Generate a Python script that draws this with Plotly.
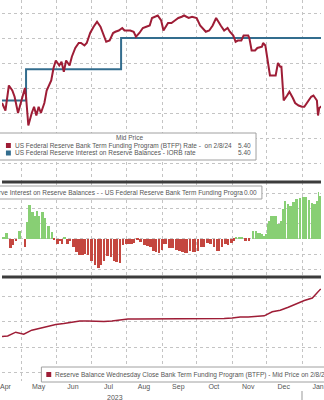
import plotly.graph_objects as go
from datetime import datetime

# ---------------- data ----------------
btfp_dates = [
    "2023-04-14", "2023-04-17", "2023-04-20", "2023-04-23", "2023-04-25", "2023-04-28",
    "2023-05-01", "2023-05-04", "2023-05-05", "2023-05-07", "2023-05-10", "2023-05-12",
    "2023-05-14", "2023-05-16", "2023-05-18", "2023-05-21", "2023-05-23", "2023-05-27",
    "2023-05-29", "2023-05-31", "2023-06-03", "2023-06-05", "2023-06-07", "2023-06-09",
    "2023-06-12", "2023-06-14", "2023-06-17", "2023-06-20", "2023-06-22", "2023-06-25",
    "2023-06-27", "2023-06-30", "2023-07-03", "2023-07-06", "2023-07-09", "2023-07-11",
    "2023-07-14", "2023-07-17", "2023-07-20", "2023-07-22", "2023-07-25", "2023-07-28",
    "2023-07-30", "2023-08-02", "2023-08-04", "2023-08-07", "2023-08-09", "2023-08-12",
    "2023-08-15", "2023-08-18", "2023-08-21", "2023-08-23", "2023-08-26", "2023-08-28",
    "2023-08-31", "2023-09-02", "2023-09-06", "2023-09-09", "2023-09-12", "2023-09-15",
    "2023-09-18", "2023-09-20", "2023-09-24", "2023-09-27", "2023-10-01", "2023-10-04",
    "2023-10-09", "2023-10-12", "2023-10-15", "2023-10-18", "2023-10-22", "2023-10-25",
    "2023-10-28", "2023-10-30", "2023-11-02", "2023-11-04", "2023-11-06", "2023-11-09",
    "2023-11-11", "2023-11-15", "2023-11-16", "2023-11-18", "2023-11-21", "2023-11-23",
    "2023-11-27", "2023-11-28", "2023-11-30", "2023-12-02", "2023-12-03", "2023-12-04",
    "2023-12-07", "2023-12-09", "2023-12-11", "2023-12-13", "2023-12-14", "2023-12-15",
    "2023-12-16", "2023-12-19", "2023-12-21", "2023-12-24", "2023-12-26", "2023-12-29",
    "2024-01-01", "2024-01-03", "2024-01-06", "2024-01-09", "2024-01-11", "2024-01-14",
    "2024-01-15", "2024-01-16", "2024-01-19", "2024-01-24", "2024-02-08",
]
btfp_rate = [
    4.88, 4.82, 5.02, 4.98, 4.93, 4.80,
    4.90, 5.00, 4.93, 4.70, 4.80, 4.85,
    4.78, 4.85, 4.80, 4.88, 4.98, 5.06,
    5.16, 5.22, 5.18, 5.21, 5.13, 5.22,
    5.18, 5.25, 5.32, 5.36, 5.36, 5.34,
    5.36, 5.44, 5.49, 5.53, 5.49, 5.44,
    5.37, 5.38, 5.44, 5.45, 5.46, 5.48,
    5.46, 5.46, 5.46, 5.45, 5.41, 5.44,
    5.48, 5.49, 5.50, 5.56, 5.57, 5.58,
    5.54, 5.46, 5.52, 5.52, 5.54, 5.56,
    5.57, 5.58, 5.56, 5.57, 5.56, 5.50,
    5.45, 5.46, 5.50, 5.56, 5.50, 5.46,
    5.48, 5.45, 5.42, 5.37, 5.38, 5.38,
    5.42, 5.42, 5.40, 5.30, 5.30, 5.32,
    5.33, 5.36, 5.34, 5.20, 5.17, 5.10,
    5.10, 5.10, 5.20, 5.17, 5.17, 5.01,
    4.90, 4.94, 4.97, 4.92, 4.88, 4.86,
    4.85, 4.85, 4.89, 4.93, 4.94, 4.90,
    4.78, 4.84, 4.86, 5.40, 5.40,
]

iorb_dates = ["2023-03-23", "2023-05-05", "2023-07-27", "2024-02-08"]
iorb_rate = [4.90, 5.15, 5.40, 5.40]

reserve_dates = [
    "2023-04-12", "2023-04-19", "2023-04-26", "2023-05-03", "2023-05-10", "2023-05-17",
    "2023-05-24", "2023-05-31", "2023-06-07", "2023-06-14", "2023-06-21", "2023-06-28",
    "2023-07-05", "2023-07-12", "2023-07-19", "2023-07-26", "2023-08-02", "2023-08-09",
    "2023-08-16", "2023-08-23", "2023-08-30", "2023-09-06", "2023-09-13", "2023-09-20",
    "2023-09-27", "2023-10-04", "2023-10-11", "2023-10-18", "2023-10-25", "2023-11-01",
    "2023-11-08", "2023-11-15", "2023-11-22", "2023-11-29", "2023-12-06", "2023-12-13",
    "2023-12-20", "2023-12-27", "2024-01-03", "2024-01-10", "2024-01-17", "2024-01-24",
    "2024-01-31", "2024-02-07",
]
reserve_bn = [
    71.0, 72.5, 80.0, 76.0, 84.0, 88.0,
    91.0, 95.0, 97.0, 100.0, 102.0, 102.0,
    101.0, 101.0, 102.0, 104.0, 106.0, 106.0,
    106.0, 106.0, 106.0, 106.0, 106.0, 106.0,
    106.0, 106.0, 106.0, 107.0, 107.0, 108.0,
    110.0, 110.0, 111.0, 112.0, 120.0, 123.0,
    129.0, 136.0, 142.0, 147.0, 164.0, 168.0,
    168.0, 168.0,
]

# month tick labels (centred mid-month)
month_tick_dates = ["2023-04-17", "2023-05-16", "2023-06-15", "2023-07-16", "2023-08-16", "2023-09-15",
                    "2023-10-16", "2023-11-15", "2023-12-16", "2024-01-15"]
month_tick_labels = ["Apr", "May", "Jun", "Jul", "Aug", "Sep", "Oct", "Nov", "Dec", "Jan"]

# ---------------- derived: spread IORB - BTFP ----------------
def to_dt(s):
    return datetime.strptime(s, "%Y-%m-%d")

iorb_dt = [to_dt(d) for d in iorb_dates]
btfp_dt = [to_dt(d) for d in btfp_dates]

def iorb_at(d):
    v = iorb_rate[0]
    for dd, rr in zip(iorb_dt, iorb_rate):
        if dd <= d:
            v = rr
    return v

spread = [round(iorb_at(d) - r, 3) for d, r in zip(btfp_dt, btfp_rate)]
bar_colors = ["#88cf74" if s >= 0 else "#c4463f" for s in spread]
bar_width = []
for i, d in enumerate(btfp_dt):
    if i + 1 < len(btfp_dt):
        gap = btfp_dt[i + 1] - d
    else:
        gap = d - btfp_dt[i - 1]
    bar_width.append(gap.total_seconds() * 1000 * 0.78)

# ---------------- layout helpers ----------------
W, H = 324, 400
B = 19
PH = H - B

def py(y):
    return (PH - y) / PH

def px(x):
    return x / W

top_dom = [py(182), 1.0]
mid_dom = [py(277), py(182)]
bot_dom = [0.0, py(277)]

RED = "#9e1d36"
BLUE = "#336d8e"
GRID = "#c4c4c4"
TXT = "#555555"
FONT = "Liberation Sans"

fig = go.Figure()
fig.add_trace(go.Scatter(x=iorb_dates, y=iorb_rate, mode="lines", line=dict(color=BLUE, width=2, shape="hv"),
                         xaxis="x3", yaxis="y"))
fig.add_trace(go.Scatter(x=btfp_dates, y=btfp_rate, mode="lines", line=dict(color=RED, width=2),
                         xaxis="x3", yaxis="y"))
fig.add_trace(go.Bar(x=btfp_dates, y=spread, marker=dict(color=bar_colors, line=dict(width=0)),
                     width=bar_width, offset=0, xaxis="x2", yaxis="y2"))
fig.add_trace(go.Scatter(x=reserve_dates, y=reserve_bn, mode="lines", line=dict(color=RED, width=1.5),
                         xaxis="x", yaxis="y3"))

xrange = ["2023-04-14", "2024-01-17 14:00"]
xcommon = dict(type="date", range=xrange, showgrid=False, ticks="", showline=False, zeroline=False,
               tickmode="array", tickvals=month_tick_dates, ticktext=month_tick_labels,
               minor=dict(dtick="M1", tick0="2023-01-01", showgrid=True, gridcolor=GRID, griddash="dot",
                          gridwidth=1, ticks=""))
ycommon = dict(showgrid=True, gridcolor=GRID, griddash="dot", gridwidth=1, showticklabels=False,
               ticks="", zeroline=False, showline=False, fixedrange=True)

fig.update_layout(
    width=W, height=H,
    margin=dict(l=0, r=0, t=0, b=B, pad=0),
    paper_bgcolor="white", plot_bgcolor="white",
    showlegend=False, bargap=0,
    font=dict(family=FONT, size=7, color=TXT),
    xaxis=dict(**xcommon, domain=[0, 1], anchor="y3", showticklabels=True, ticklabeloverflow="allow",
               tickfont=dict(size=7, color=TXT, family=FONT)),
    xaxis2=dict(**xcommon, domain=[0, 1], anchor="y2", matches="x", showticklabels=False),
    xaxis3=dict(**xcommon, domain=[0, 1], anchor="y", matches="x", showticklabels=False),
    yaxis=dict(**ycommon, domain=top_dom, anchor="x3", range=[4.248, 5.704], dtick=0.2, tick0=0),
    yaxis2=dict(**ycommon, domain=mid_dom, anchor="x2", range=[-0.497, 0.745], dtick=0.2, tick0=0),
    yaxis3=dict(**ycommon, domain=bot_dom, anchor="x", range=[-15.7, 188.2], dtick=50, tick0=0),
)

shapes = []
annotations = []
# panel separators
for yy in (top_dom[0], mid_dom[0]):
    shapes.append(dict(type="line", xref="paper", yref="paper", x0=0, x1=1, y0=yy, y1=yy,
                       line=dict(color="#3c3c3c", width=3)))

# top legend box
shapes.append(dict(type="rect", xref="paper", yref="paper", x0=-0.02, x1=px(258), y0=py(160), y1=py(133),
                   fillcolor="white", line=dict(color="#a0a0a0", width=1)))
annotations.append(dict(text="Mid Price", xref="paper", yref="paper", x=px(130), y=py(137.5),
                        xanchor="center", yanchor="middle", showarrow=False, font=dict(size=6.5, color=TXT)))
rows = [
    (RED, "US Federal Reserve Bank Term Funding Program (BTFP) Rate -  on 2/8/24", "5.40", 145.5),
    (BLUE, "US Federal Reserve Interest on Reserve Balances - IORB rate", "5.40", 153),
]
for col, label, val, yy in rows:
    shapes.append(dict(type="rect", xref="paper", yref="paper", x0=px(4), x1=px(9), y0=py(yy + 2.5), y1=py(yy - 2.5),
                       fillcolor=col, line=dict(width=0)))
    annotations.append(dict(text=label, xref="paper", yref="paper", x=px(11), y=py(yy), xanchor="left",
                            yanchor="middle", showarrow=False, font=dict(size=6.5, color=TXT)))
    annotations.append(dict(text=val, xref="paper", yref="paper", x=px(255), y=py(yy), xanchor="right",
                            yanchor="middle", showarrow=False, font=dict(size=6.5, color=TXT)))

# middle legend box
shapes.append(dict(type="rect", xref="paper", yref="paper", x0=-0.02, x1=px(264), y0=py(199), y1=py(186),
                   fillcolor="white", line=dict(color="#a0a0a0", width=1)))
annotations.append(dict(text="US Federal Reserve Interest on Reserve Balances - - US Federal Reserve Bank Term Funding Progra",
                        xref="paper", yref="paper", x=px(247), y=py(192.5), xanchor="right", yanchor="middle",
                        showarrow=False, font=dict(size=6.5, color=TXT)))
annotations.append(dict(text="0.00", xref="paper", yref="paper", x=px(261), y=py(192.5), xanchor="right",
                        yanchor="middle", showarrow=False, font=dict(size=6.5, color=TXT)))

# bottom legend box
shapes.append(dict(type="rect", xref="paper", yref="paper", x0=px(40), x1=1.02, y0=py(382), y1=py(367),
                   fillcolor="white", line=dict(color="#a0a0a0", width=1)))
shapes.append(dict(type="rect", xref="paper", yref="paper", x0=px(45), x1=px(50), y0=py(377), y1=py(372),
                   fillcolor=RED, line=dict(width=0)))
annotations.append(dict(text="Reserve Balance Wednesday Close Bank Term Funding Program (BTFP) - Mid Price on 2/8/24 167.81",
                        xref="paper", yref="paper", x=px(52), y=py(374.5), xanchor="left", yanchor="middle",
                        showarrow=False, font=dict(size=6.5, color=TXT)))

# year label and year tick
annotations.append(dict(text="2023", xref="x", yref="paper", x="2023-07-22", y=py(397), xanchor="center",
                        yanchor="middle", showarrow=False, font=dict(size=7, color=TXT)))
shapes.append(dict(type="line", xref="x", yref="paper", x0="2024-01-01", x1="2024-01-01", y0=py(400), y1=py(391),
                   line=dict(color="#999999", width=1)))

fig.update_layout(shapes=shapes, annotations=annotations)
fig.write_html("out.html")
